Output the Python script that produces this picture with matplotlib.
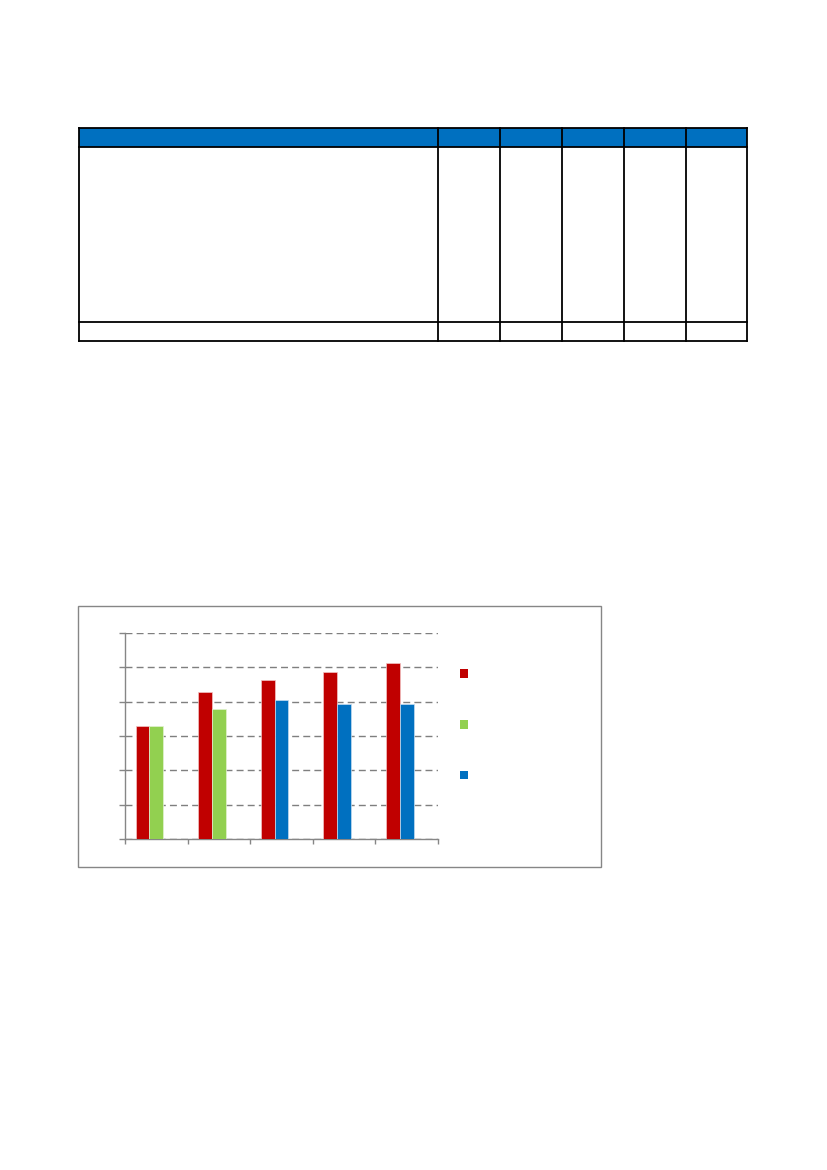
import numpy as np
import matplotlib
matplotlib.use("Agg")
import matplotlib.pyplot as plt
from matplotlib.patches import Rectangle

# chart values (all text in the source is blank)
categories = ["", "", "", "", ""]
red_vals = [3.30, 4.27, 4.63, 4.85, 5.14]
green_vals = [3.30, 3.79, np.nan, np.nan, np.nan]
blue_vals = [np.nan, np.nan, 4.06, 3.93, 3.94]

# table layout (5 value columns, blank cells)
col_edges = [79, 438, 500, 562, 624, 686, 747]
row_edges = [128, 147, 322, 341]

RED = "#C00000"
GREEN = "#92D050"
BLUE = "#0070C0"
GREY = "#868686"

W, H = 827, 1170
fig = plt.figure(figsize=(W / 100, H / 100), dpi=100)
fig.patch.set_facecolor("white")

# overlay axes in pixel units for the table
page = fig.add_axes([0, 0, 1, 1])
page.set_xlim(0, W)
page.set_ylim(H, 0)
page.axis("off")

x0, x1 = col_edges[0], col_edges[-1]
page.add_patch(Rectangle((x0, row_edges[0]), x1 - x0, row_edges[1] - row_edges[0],
                         facecolor=BLUE, edgecolor="none"))
for y in row_edges:
    page.plot([x0, x1], [y, y], color="black", lw=1.3)
for x in col_edges:
    page.plot([x, x], [row_edges[0], row_edges[-1]], color="black", lw=1.3)

# chart frame
page.add_patch(Rectangle((78, 606), 523, 261, facecolor="none",
                         edgecolor=GREY, lw=1.0))

# bar chart
ax = fig.add_axes([125 / W, (H - 839) / H, 313 / W, 206 / H])
x = np.arange(len(categories))
bw = 0.22
ax.bar(x - bw, red_vals, bw, color=RED, edgecolor="#f2c4c4", lw=0.5, zorder=3)
ax.bar(x, green_vals, bw, color=GREEN, edgecolor="#e2f2d2", lw=0.5, zorder=3)
ax.bar(x, blue_vals, bw, color=BLUE, edgecolor="#c4dcf0", lw=0.5, zorder=3)

ax.set_xlim(-0.5, len(categories) - 0.5)
ax.set_ylim(0, 6)
ax.set_yticks(range(0, 7))
ax.set_yticklabels([])
ax.set_xticks(np.arange(-0.5, len(categories), 1.0))
ax.set_xticklabels([])
ax.tick_params(axis="y", direction="out", length=4, color=GREY, width=1)
ax.tick_params(axis="x", direction="out", length=3.5, color=GREY, width=1)
ax.yaxis.grid(True, linestyle=(0, (5, 3)), color="#7f7f7f", lw=1.0)
ax.set_axisbelow(True)
for s in ["top", "right"]:
    ax.spines[s].set_visible(False)
for s in ["left", "bottom"]:
    ax.spines[s].set_color(GREY)
    ax.spines[s].set_linewidth(1.0)

handles = [Rectangle((0, 0), 1, 1, facecolor=c) for c in (RED, GREEN, BLUE)]
fig.legend(handles, ["", "", ""], loc="center left",
           bbox_to_anchor=(453 / W, (H - 725) / H),
           frameon=False, handlelength=0.6, handleheight=0.6,
           labelspacing=2.65, borderpad=0, handletextpad=0.5)

fig.savefig("out.png", dpi=100, facecolor="white")
